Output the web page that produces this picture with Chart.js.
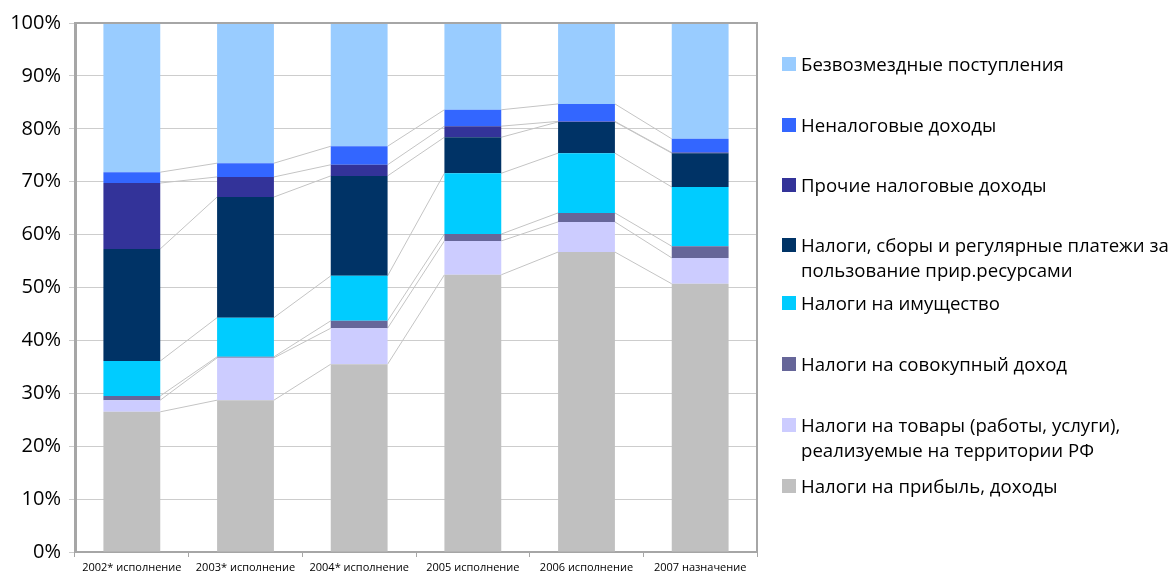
<!DOCTYPE html>
<html>
<head>
<meta charset="utf-8">
<script src="https://cdn.jsdelivr.net/npm/chart.js@4"></script>
<style>
  html, body { margin: 0; padding: 0; background: #fff; overflow: hidden; }
  #wrap { position: relative; width: 1176px; height: 574px; overflow: hidden; }
  canvas { position: absolute; left: 0; top: 0; }
  #legend { position: absolute; left: 0; top: 0; width: 1176px; height: 574px; pointer-events: none;
            font-family: "Open Sans", sans-serif; font-size: 18.6px; color: #000; }
  .li { position: absolute; left: 782px; white-space: nowrap; line-height: 25px; }
  .sw { position: absolute; left: 0; top: 5.5px; width: 14px; height: 14px; }
  .tx { position: absolute; left: 19px; top: 0; }
</style>
</head>
<body>
<div id="wrap">
  <canvas id="c" width="1176" height="574"></canvas>
  <div id="legend"></div>
</div>
<script>
// ---- data ----
const categories = ["2002* исполнение", "2003* исполнение", "2004* исполнение", "2005 исполнение", "2006 исполнение", "2007 назначение"];
const seriesNames = [
  "Налоги на прибыль, доходы",
  "Налоги на товары (работы, услуги),\nреализуемые на территории РФ",
  "Налоги на совокупный доход",
  "Налоги на имущество",
  "Налоги, сборы и регулярные платежи за\nпользование прир.ресурсами",
  "Прочие налоговые доходы",
  "Неналоговые доходы",
  "Безвозмездные поступления"
];
const profitTax      = [26.5, 28.7, 35.5, 52.4, 56.7, 50.7];
const goodsTax       = [2.2, 8.0, 6.8, 6.4, 5.7, 4.9];
const aggIncomeTax   = [0.8, 0.2, 1.4, 1.3, 1.7, 2.2];
const propertyTax    = [6.6, 7.4, 8.5, 11.5, 11.3, 11.2];
const resourceTax    = [21.2, 22.8, 18.9, 6.8, 5.9, 6.4];
const otherTax       = [12.45, 3.8, 2.1, 2.1, 0.1, 0.1];
const nonTaxIncome   = [2.05, 2.6, 3.5, 3.1, 3.3, 2.6];
const grants         = [28.2, 26.5, 23.3, 16.4, 15.3, 21.9];
const yTickLabels    = ["0%", "10%", "20%", "30%", "40%", "50%", "60%", "70%", "80%", "90%", "100%"];

const seriesValues = [profitTax, goodsTax, aggIncomeTax, propertyTax, resourceTax, otherTax, nonTaxIncome, grants];
const colors = ["#C0C0C0", "#CCCCFF", "#666699", "#00CCFF", "#003366", "#333399", "#3366FF", "#99CCFF"];

// ---- series lines plugin (Excel-style connectors) ----
const seriesLines = {
  id: 'seriesLines',
  beforeDatasetsDraw(chart) {
    const ctx = chart.ctx;
    ctx.save();
    ctx.strokeStyle = '#C4C4C4';
    ctx.lineWidth = 1;
    chart.data.datasets.forEach((ds, i) => {
      const meta = chart.getDatasetMeta(i);
      for (let j = 0; j < meta.data.length - 1; j++) {
        const a = meta.data[j], b = meta.data[j + 1];
        ctx.beginPath();
        ctx.moveTo(a.x + a.width / 2, a.y);
        ctx.lineTo(b.x - b.width / 2, b.y);
        ctx.stroke();
      }
    });
    ctx.restore();
  },
  afterDraw(chart) {
    const {ctx, chartArea: ca} = chart;
    ctx.save();
    ctx.strokeStyle = '#A6A6A6';
    ctx.lineWidth = 2;
    ctx.beginPath();
    ctx.moveTo(ca.left, ca.top);
    ctx.lineTo(ca.right, ca.top);
    ctx.lineTo(ca.right, ca.bottom);
    ctx.stroke();
    ctx.restore();
  }
};

Chart.defaults.font.family = '"Open Sans", sans-serif';
Chart.defaults.color = '#000';

new Chart(document.getElementById('c'), {
  type: 'bar',
  data: {
    labels: categories,
    datasets: seriesValues.map((v, i) => ({
      label: seriesNames[i],
      data: v,
      backgroundColor: colors[i],
      borderWidth: 0,
      categoryPercentage: 1.0,
      barPercentage: 0.5
    }))
  },
  options: {
    responsive: false,
    animation: false,
    devicePixelRatio: 1,
    layout: { padding: { left: 0, right: 419, top: 23, bottom: 0 } },
    plugins: { legend: { display: false }, tooltip: { enabled: false } },
    scales: {
      x: {
        stacked: true,
        grid: { drawOnChartArea: false, drawTicks: true, tickLength: 5, color: '#A6A6A6', offset: true },
        border: { color: '#A6A6A6', width: 2 },
        ticks: { font: { size: 11 }, color: '#000', padding: 4, maxRotation: 0, autoSkip: false },
        afterFit(s) { s.height = 22; }
      },
      y: {
        stacked: true,
        min: 0, max: 100,
        grid: { color: '#CDCDCD', lineWidth: 1, tickLength: 6 },
        border: { color: '#A6A6A6', width: 3 },
        ticks: {
          stepSize: 10,
          font: { size: 20 },
          color: '#000',
          padding: 8,
          callback: (v) => yTickLabels[Math.round(v / 10)]
        },
        afterFit(s) { s.width = 75; }
      }
    }
  },
  plugins: [seriesLines]
});

// ---- legend (HTML, reversed order like the reference) ----
const legendTops = [51, 112, 172, 232, 290, 351, 412, 473];
const leg = document.getElementById('legend');
for (let k = 0; k < seriesNames.length; k++) {
  const i = seriesNames.length - 1 - k;
  const item = document.createElement('div');
  item.className = 'li';
  item.style.top = legendTops[k] + 'px';
  const sw = document.createElement('div');
  sw.className = 'sw';
  sw.style.background = colors[i];
  const tx = document.createElement('div');
  tx.className = 'tx';
  tx.innerHTML = seriesNames[i].split('\n').join('<br>');
  item.appendChild(sw);
  item.appendChild(tx);
  leg.appendChild(item);
}
</script>
</body>
</html>
